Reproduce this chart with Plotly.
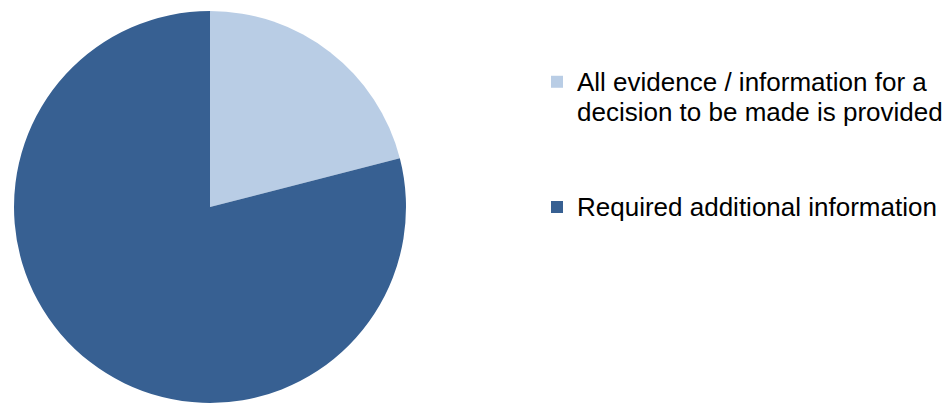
import plotly.graph_objects as go

categories = [
    "All evidence / information for a<br>decision to be made is provided",
    "Required additional information",
]
values = [21, 79]
colors = ["#B9CDE5", "#376092"]

W, H = 951, 403
TEXT_SIZE = 26


def legend_label(text, pad_lines=0):
    lines = [f'<span style="font-size:{TEXT_SIZE}px">{t}</span>' for t in text.split("<br>")]
    lines += [" "] * pad_lines
    return "<br>".join(lines)


legend_labels = [legend_label(categories[0], 2), legend_label(categories[1])]

fig = go.Figure(
    go.Pie(
        labels=legend_labels,
        values=values,
        sort=False,
        direction="clockwise",
        rotation=0,
        marker=dict(colors=colors, line=dict(width=0)),
        textinfo="none",
        hovertext=[c.replace("<br>", " ") for c in categories],
        hoverinfo="text+percent",
        domain=dict(x=[4 / W, 400 / W], y=[8 / H, 400 / H]),
    )
)

fig.update_layout(
    width=W,
    height=H,
    margin=dict(l=0, r=0, t=0, b=0, autoexpand=False),
    paper_bgcolor="white",
    plot_bgcolor="white",
    font=dict(family="Liberation Sans, Arial, sans-serif", size=TEXT_SIZE, color="black"),
    legend=dict(
        x=529 / W,
        xanchor="left",
        y=1 - 52 / H,
        yanchor="top",
        valign="top",
        bgcolor="rgba(0,0,0,0)",
        font=dict(family="Liberation Sans, Arial, sans-serif", size=23.5, color="black"),
        tracegroupgap=0,
    ),
)

fig.write_html("out.html")
